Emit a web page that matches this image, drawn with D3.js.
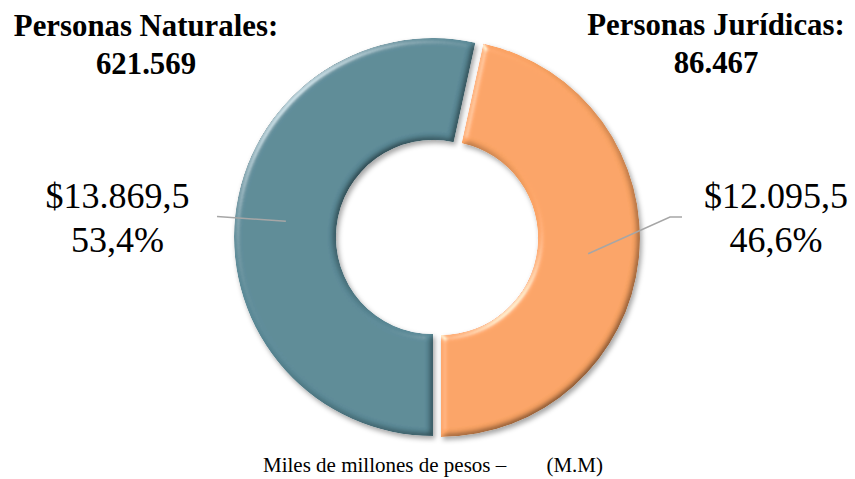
<!DOCTYPE html>
<html>
<head>
<meta charset="utf-8">
<script src="https://cdn.jsdelivr.net/npm/d3@7"></script>
<style>
  html, body { margin: 0; padding: 0; background: #fff; }
  svg { display: block; }
  text { font-family: "Liberation Serif", "Times New Roman", "DejaVu Serif", serif; }
</style>
</head>
<body>
<svg id="chart" width="855" height="479"></svg>
<script>
// datos del grafico
const categories = ['Personas Naturales', 'Personas Jurídicas'];
const counts = ['621.569', '86.467'];
const values = [13869.5, 12095.5];       // miles de millones de pesos
const valueLabels = ['$13.869,5', '$12.095,5'];
const pctLabels = ['53,4%', '46,6%'];
const colors = ['#5a8996', '#faa363'];

var FONT = '"Liberation Serif", "Times New Roman", serif';

var width = 855,
    height = 479,
    cx = 437,
    cy = 237.5,
    outerR = 199,
    innerR = 97,
    explode = 4;

var svg = d3.select('#chart');

// bevel filter (light from top-left)
var defs = svg.append('defs');
var f = defs.append('filter').attr('id', 'bevel')
    .attr('x', '-10%').attr('y', '-10%').attr('width', '120%').attr('height', '120%');
f.append('feGaussianBlur').attr('in', 'SourceAlpha').attr('stdDeviation', 3).attr('result', 'blur');
f.append('feSpecularLighting').attr('in', 'blur').attr('surfaceScale', 3)
    .attr('specularConstant', 0.65).attr('specularExponent', 30)
    .attr('lighting-color', '#ffffff').attr('result', 'spec')
    .append('feDistantLight').attr('azimuth', 225).attr('elevation', 35);
f.append('feComposite').attr('in', 'spec').attr('in2', 'SourceAlpha').attr('operator', 'in').attr('result', 'specIn');
f.append('feDiffuseLighting').attr('in', 'blur').attr('surfaceScale', 3)
    .attr('diffuseConstant', 1.3).attr('lighting-color', '#ffffff').attr('result', 'diff')
    .append('feDistantLight').attr('azimuth', 225).attr('elevation', 50);
f.append('feComposite').attr('in', 'SourceGraphic').attr('in2', 'diff').attr('operator', 'arithmetic')
    .attr('k1', 1).attr('k2', 0).attr('k3', 0).attr('k4', 0).attr('result', 'lit');
f.append('feComposite').attr('in', 'lit').attr('in2', 'SourceAlpha').attr('operator', 'in').attr('result', 'litIn');
f.append('feComposite').attr('in', 'litIn').attr('in2', 'specIn').attr('operator', 'arithmetic')
    .attr('k1', 0).attr('k2', 1).attr('k3', 0.7).attr('k4', 0).attr('result', 'shape');
f.append('feOffset').attr('in', 'SourceAlpha').attr('dx', 2).attr('dy', 3).attr('result', 'off');
f.append('feGaussianBlur').attr('in', 'off').attr('stdDeviation', 2.5).attr('result', 'offBlur');
f.append('feFlood').attr('flood-color', '#000').attr('flood-opacity', 0.35);
f.append('feComposite').attr('in2', 'offBlur').attr('operator', 'in').attr('result', 'shadow');
var m = f.append('feMerge');
m.append('feMergeNode').attr('in', 'shadow');
m.append('feMergeNode').attr('in', 'shape');

// pie: empieza abajo, sentido horario
var pie = d3.pie().sort(null).startAngle(Math.PI).endAngle(3 * Math.PI);
var arc = d3.arc().innerRadius(innerR).outerRadius(outerR);
var arcs = pie(values);

var g = svg.append('g').attr('transform', 'translate(' + cx + ',' + cy + ')');

var slices = g.selectAll('g.slice')
    .data(arcs)
    .enter().append('g')
    .attr('class', 'slice')
    .attr('transform', function (d) {
        var a = (d.startAngle + d.endAngle) / 2;
        return 'translate(' + (explode * Math.sin(a)) + ',' + (-explode * Math.cos(a)) + ')';
    });

slices.append('path')
    .attr('d', arc)
    .attr('fill', function (d, i) { return colors[i]; })
    .attr('filter', 'url(#bevel)');

// lineas guia
function centroidAbs(d) {
    var a = (d.startAngle + d.endAngle) / 2;
    var c = arc.centroid(d);
    return [cx + c[0] + explode * Math.sin(a), cy + c[1] - explode * Math.cos(a)];
}
var p0 = centroidAbs(arcs[0]);
var p1 = centroidAbs(arcs[1]);
var line = d3.line();
svg.append('path')
    .attr('d', line([p0, [217, 216.5]]))
    .attr('fill', 'none').attr('stroke', '#a6a6a6').attr('stroke-width', 1.5);
svg.append('path')
    .attr('d', line([p1, [670, 217], [682, 217]]))
    .attr('fill', 'none').attr('stroke', '#a6a6a6').attr('stroke-width', 1.5);

// etiquetas de valor
var labelPos = [[117.5, 208], [776, 208]];
labelPos.forEach(function (p, i) {
    var t = svg.append('text')
        .attr('x', p[0]).attr('y', p[1])
        .attr('text-anchor', 'middle')
        .attr('font-family', FONT)
        .attr('font-size', '36px')
        .attr('fill', '#000');
    t.append('tspan').attr('x', p[0]).text(valueLabels[i]);
    t.append('tspan').attr('x', p[0]).attr('dy', 44).text(pctLabels[i]);
});

// titulos
var titlePos = [[146, 36], [716, 35]];
titlePos.forEach(function (p, i) {
    var t = svg.append('text')
        .attr('x', p[0]).attr('y', p[1])
        .attr('text-anchor', 'middle')
        .attr('font-family', FONT)
        .attr('font-size', '30.8px')
        .attr('font-weight', 'bold')
        .attr('fill', '#000');
    t.append('tspan').attr('x', p[0]).text(categories[i] + ':');
    t.append('tspan').attr('x', p[0]).attr('dy', 38).text(counts[i]);
});

// nota de unidades
svg.append('text')
    .attr('x', 263).attr('y', 472)
    .attr('font-family', FONT)
    .attr('font-size', '21px')
    .text('Miles de millones de pesos –');
svg.append('text')
    .attr('x', 603).attr('y', 472)
    .attr('text-anchor', 'end')
    .attr('font-family', FONT)
    .attr('font-size', '21px')
    .text('(M.M)');
</script>
</body>
</html>
